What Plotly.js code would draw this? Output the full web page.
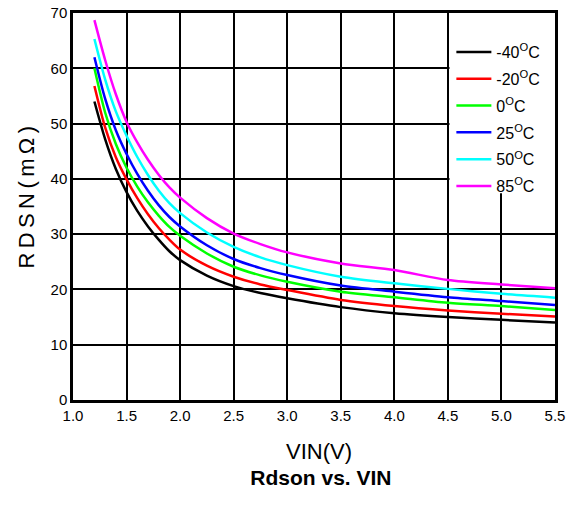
<!DOCTYPE html>
<html>
<head>
<meta charset="utf-8">
<script src="https://cdn.plot.ly/plotly-3.0.1.min.js"></script>
<style>html,body{margin:0;padding:0;background:#fff;}#chart{width:566px;height:505px;}</style>
</head>
<body>
<div id="chart"></div>
<script>
var vin  = [1.2, 1.3, 1.4, 1.5, 1.6, 1.7, 1.8, 1.9, 2.0, 2.25, 2.5, 2.75, 3.0, 3.5, 4.0, 4.5, 5.0, 5.5];
var rM40 = [54.0, 47.2, 41.8, 37.6, 34.2, 31.4, 29.0, 26.9, 25.3, 22.5, 20.6, 19.35, 18.4, 16.8, 15.7, 15.0, 14.5, 14.0];
var rM20 = [56.8, 49.3, 43.9, 39.9, 36.5, 33.6, 31.1, 29.0, 27.2, 24.3, 22.3, 20.9, 19.9, 18.1, 17.0, 16.2, 15.6, 15.1];
var r0   = [60.0, 52.0, 46.3, 42.0, 38.6, 35.75, 33.35, 31.3, 29.7, 26.5, 24.1, 22.55, 21.4, 19.6, 18.6, 17.6, 17.0, 16.3];
var r25  = [62.0, 54.5, 48.8, 44.5, 40.9, 37.85, 35.25, 33.1, 31.4, 28.0, 25.5, 23.85, 22.6, 20.7, 19.6, 18.6, 17.9, 17.2];
var r50  = [65.3, 58.0, 52.2, 47.8, 43.95, 40.7, 37.9, 35.6, 33.8, 30.3, 27.7, 25.8, 24.4, 22.3, 21.1, 20.1, 19.2, 18.5];
var r85  = [68.7, 61.5, 55.3, 50.3, 46.6, 43.45, 40.75, 38.45, 36.6, 32.9, 30.1, 28.2, 26.7, 24.7, 23.5, 21.7, 20.9, 20.2];
var seriesNames = ['-40<sup>O</sup>C', '-20<sup>O</sup>C', '0<sup>O</sup>C', '25<sup>O</sup>C', '50<sup>O</sup>C', '85<sup>O</sup>C'];
var seriesData = [rM40, rM20, r0, r25, r50, r85];
var seriesColors = ['#000000', '#ff0000', '#00ff00', '#0000ff', '#00ffff', '#ff00ff'];
var xTicks = [1.0, 1.5, 2.0, 2.5, 3.0, 3.5, 4.0, 4.5, 5.0, 5.5];
var yTicks = [0, 10, 20, 30, 40, 50, 60, 70];
var xTitle = 'VIN(V)';
var yTitle = 'R\u2009D\u2009S\u2009N\u2009(\u2009m\u2009\u03A9\u2009)';
var chartTitle = 'Rdson vs. VIN';

var FONT = 'Liberation Sans, Arial, sans-serif';
var traces = seriesData.map(function (ys, i) {
  return {
    x: vin, y: ys, name: seriesNames[i], type: 'scatter', mode: 'lines',
    legendgroup: 'g' + i,
    line: {color: seriesColors[i], width: 2.5, shape: 'spline', smoothing: 0.8}
  };
});

var layout = {
  width: 566, height: 505,
  margin: {l: 73, r: 11, t: 13, b: 105, pad: 0},
  paper_bgcolor: '#ffffff', plot_bgcolor: '#ffffff',
  font: {family: FONT, size: 15, color: '#000'},
  showlegend: true,
  legend: {
    x: 0.785, xanchor: 'left', y: 0.943, yanchor: 'top',
    bgcolor: 'rgba(0,0,0,0)', borderwidth: 0,
    font: {family: FONT, size: 16, color: '#000'},
    itemwidth: 35, tracegroupgap: 3
  },
  title: {
    text: '<b>' + chartTitle + '</b>',
    font: {family: FONT, size: 21, color: '#000'},
    xref: 'container', yref: 'container', x: 0.567, xanchor: 'center', y: 0.055, yanchor: 'middle'
  },
  xaxis: {
    range: [1.0, 5.5], tickvals: xTicks, ticktext: xTicks.map(function (v) { return v.toFixed(1); }),
    showgrid: true, gridcolor: '#000', gridwidth: 1.5,
    showline: true, linecolor: '#000', linewidth: 2.5, mirror: true,
    ticks: '', zeroline: false,
    tickfont: {family: FONT, size: 15, color: '#000'}
  },
  yaxis: {
    range: [0, 70], tickvals: yTicks,
    showgrid: true, gridcolor: '#000', gridwidth: 1.5,
    showline: true, linecolor: '#000', linewidth: 2.5, mirror: true,
    ticks: '', zeroline: false,
    tickfont: {family: FONT, size: 15, color: '#000'}
  },
  annotations: [
    {text: xTitle, xref: 'paper', yref: 'paper', x: 0.511, y: -0.132, xanchor: 'center', yanchor: 'middle',
     showarrow: false, font: {family: FONT, size: 22, color: '#000'}},
    {text: yTitle, xref: 'paper', yref: 'paper', x: -0.096, y: 0.525, xanchor: 'center', yanchor: 'middle',
     textangle: -90, showarrow: false, font: {family: FONT, size: 22, color: '#000'}}
  ],
  shapes: [{
    type: 'rect', xref: 'x', yref: 'y', x0: 4.515, x1: 5.5, y0: 37.4, y1: 70,
    fillcolor: '#ffffff', line: {width: 0}, layer: 'between'
  }]
};

Plotly.newPlot('chart', traces, layout, {displayModeBar: false, responsive: false});
</script>
</body>
</html>
